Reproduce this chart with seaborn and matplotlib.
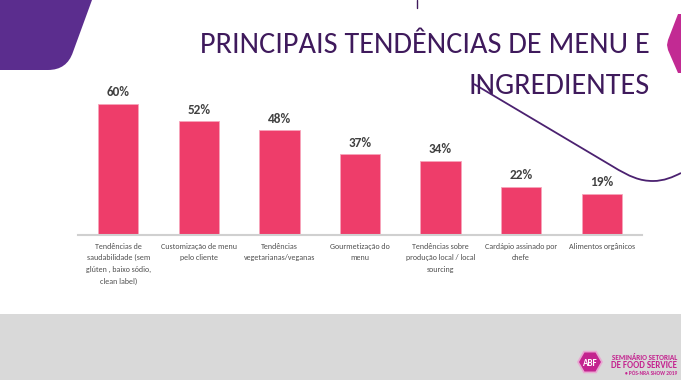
import numpy as np
import pandas as pd
import matplotlib
matplotlib.use("Agg")
import matplotlib.pyplot as plt
import seaborn as sns
from matplotlib.patches import Rectangle, PathPatch, RegularPolygon
from matplotlib.path import Path

sns.set_theme(style="white")
plt.rcParams["font.family"] = ["Carlito", "DejaVu Sans"]

# ---- data ----
categories = [
    "Tendências de\nsaudabilidade (sem\nglúten , baixo sódio,\nclean label)",
    "Customização de menu\npelo cliente",
    "Tendências\nvegetarianas/veganas",
    "Gourmetização do\nmenu",
    "Tendências sobre\nprodução local / local\nsourcing",
    "Cardápio assinado por\nchefe",
    "Alimentos orgânicos",
]
values = [60, 52, 48, 37, 34, 22, 19]
title_lines = ["PRINCIPAIS TENDÊNCIAS DE MENU E", "INGREDIENTES"]

BAR = "#ee3d6a"
PURPLE = "#3f1a5c"
W, H = 681, 380

fig = plt.figure(figsize=(W / 100, H / 100), dpi=100)
fig.patch.set_facecolor("white")

# decoration layer in pixel coordinates
deco = fig.add_axes([0, 0, 1, 1], zorder=0)
deco.set_xlim(0, W); deco.set_ylim(H, 0); deco.axis("off")

deco.add_patch(Rectangle((0, 314), W, H - 314, color="#d9d9d9", lw=0))

# top-left purple shape
v = [(0, 0), (92, 0), (73, 52), (67, 70), (48, 70), (0, 70), (0, 0)]
c = [Path.MOVETO, Path.LINETO, Path.LINETO, Path.CURVE3, Path.CURVE3, Path.LINETO, Path.CLOSEPOLY]
deco.add_patch(PathPatch(Path(v, c), color="#5b2d8e", lw=0))

# right magenta shape
v = [(681, 14), (678, 14), (668, 40), (667, 45), (668, 50), (678, 73), (681, 73), (681, 14)]
deco.add_patch(PathPatch(Path(v, closed=True), color="#c22a93", lw=0))

# small tick at top
deco.plot([417, 417], [0, 8], color=PURPLE, lw=1)

# swoosh line
v = [(474, 84), (612, 166), (630, 177), (640, 181), (653, 181),
     (664, 181), (673, 177), (681, 173)]
c = [Path.MOVETO, Path.LINETO, Path.CURVE4, Path.CURVE4, Path.CURVE4,
     Path.CURVE4, Path.CURVE4, Path.CURVE4]
deco.add_patch(PathPatch(Path(v, c), fill=False, color="#4b2170", lw=1.3))

# title
fig.text(650 / W, 1 - 53 / H, title_lines[0], ha="right", va="baseline",
         fontsize=21.8, color=PURPLE)
fig.text(650 / W, 1 - 94 / H, title_lines[1], ha="right", va="baseline",
         fontsize=21.8, color=PURPLE)

# logo
deco.add_patch(RegularPolygon((590, 362), 6, radius=13, orientation=np.pi / 6,
                              color="#e9a7d2", lw=0))
deco.add_patch(RegularPolygon((590, 362), 6, radius=11, orientation=np.pi / 6,
                              color="#c4238f", lw=0))
deco.text(590, 363, "ABF", color="white", fontsize=6.5, fontweight="bold",
          ha="center", va="center")
deco.text(677, 357, "SEMINÁRIO SETORIAL", color="#c4238f", fontsize=5.2, fontweight="bold",
          ha="right", va="center")
deco.text(677, 365.5, "DE FOOD SERVICE", color="#c4238f", fontsize=6.4, fontweight="bold",
          ha="right", va="center")
deco.text(677, 373, "• PÓS-NRA SHOW 2019", color="#c4238f", fontsize=3.9, fontweight="bold",
          ha="right", va="center")

# bar chart
ax = fig.add_axes([78 / W, 1 - 235 / H, (642 - 78) / W, (235 - 80) / H], zorder=2)
ax.patch.set_alpha(0)
df = pd.DataFrame({"cat": categories, "val": values})
sns.barplot(data=df, x="cat", y="val", color=BAR, width=0.5, ax=ax,
            saturation=1, edgecolor="#f7a5bb", linewidth=0.6)
ax.set_xlim(-0.5, len(values) - 0.5)
ax.set_ylim(0, 60 * 155 / 131)
for i, val in enumerate(values):
    ax.annotate(f"{val}%", (i, val), xytext=(0, 4), textcoords="offset points",
                ha="center", va="bottom", fontsize=9.5, fontweight="bold", color="#404040")
for s in ["top", "left", "right"]:
    ax.spines[s].set_visible(False)
ax.spines["bottom"].set_color("#d0d0d0")
ax.spines["bottom"].set_linewidth(1.5)
ax.set_yticks([])
ax.set_xlabel(""); ax.set_ylabel("")
ax.tick_params(axis="x", length=0, pad=5.5, labelsize=5.8, labelcolor="#505050")
for lab in ax.get_xticklabels():
    lab.set_linespacing(1.75)

fig.savefig("out.png", dpi=100)
